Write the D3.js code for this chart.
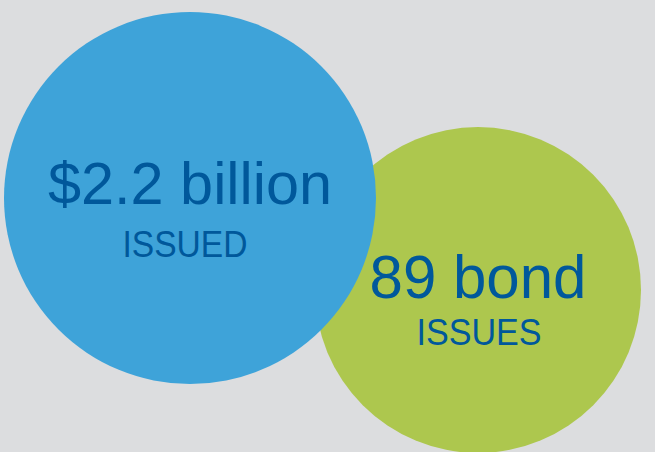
<!DOCTYPE html>
<html>
<head>
<meta charset="utf-8">
<script src="https://cdn.jsdelivr.net/npm/d3@7"></script>
<style>
  html, body { margin: 0; padding: 0; background: #dcdddf; }
  svg { display: block; }
</style>
</head>
<body>
<div id="chart"></div>
<script>
// Figures shown in the bubbles
const headlines = ['$2.2 billion', '89 bond'];
const captions = ['ISSUED', 'ISSUES'];
const fills = ['#3ea3d9', '#adc74e'];

const width = 655;
const height = 452;

// Bubble layout
const bubbles = [
  { cx: 190, cy: 198, r: 186, headSize: 60, headLen: 284, headY: 204, capSize: 36, capLen: 125, capX: 185, capY: 257 },
  { cx: 478, cy: 290, r: 163, headSize: 62, headLen: 217, headY: 298, capSize: 36, capLen: 125, capX: 479, capY: 345 }
].map((b, i) => ({ ...b, headline: headlines[i], caption: captions[i], fill: fills[i] }));

const svg = d3.select('#chart')
  .append('svg')
  .attr('width', width)
  .attr('height', height);

svg.append('rect')
  .attr('width', width)
  .attr('height', height)
  .attr('fill', '#dcdddf');

// Circles: green first so the blue one sits on top
svg.append('g')
  .attr('class', 'circles')
  .selectAll('circle')
  .data(bubbles.slice().reverse())
  .enter()
  .append('circle')
  .attr('cx', d => d.cx)
  .attr('cy', d => d.cy)
  .attr('r', d => d.r)
  .attr('fill', d => d.fill);

// Labels on top of both circles
const labels = svg.append('g')
  .attr('class', 'labels')
  .selectAll('g')
  .data(bubbles)
  .enter()
  .append('g');

labels.append('text')
  .attr('x', d => d.cx)
  .attr('y', d => d.headY)
  .attr('text-anchor', 'middle')
  .attr('textLength', d => d.headLen)
  .attr('lengthAdjust', 'spacingAndGlyphs')
  .style('font-family', '"Liberation Sans", Arial, sans-serif')
  .style('font-size', d => d.headSize + 'px')
  .style('fill', '#00589b')
  .text(d => d.headline);

labels.append('text')
  .attr('x', d => d.capX)
  .attr('y', d => d.capY)
  .attr('text-anchor', 'middle')
  .attr('textLength', d => d.capLen)
  .attr('lengthAdjust', 'spacingAndGlyphs')
  .style('font-family', '"Liberation Sans", Arial, sans-serif')
  .style('font-size', d => d.capSize + 'px')
  .style('fill', '#00589b')
  .text(d => d.caption);
</script>
</body>
</html>
